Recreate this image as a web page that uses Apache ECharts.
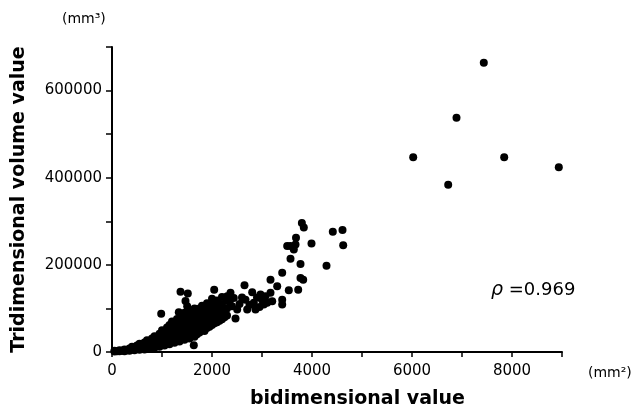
<!DOCTYPE html>
<html>
<head>
<meta charset="utf-8">
<script src="https://cdn.jsdelivr.net/npm/echarts@6/dist/echarts.min.js"></script>
<style>
  html, body { margin: 0; padding: 0; background: #fff; }
  #main { width: 631px; height: 412px; }
</style>
</head>
<body>
<div id="main"></div>
<script>
// bidimensional value (mm2) and tridimensional volume value (mm3)
var bandX = [
  50, 50, 100, 150, 150, 200, 250, 250, 300, 350, 350, 400, 400, 450, 450, 500, 500,
  550, 550, 550, 600, 600, 650, 650, 650, 700, 700, 700, 750, 750, 750,
  800, 800, 800, 850, 850, 850, 850, 900, 900, 900, 950, 950, 950, 950,
  1000, 1000, 1000, 1000, 1050, 1050, 1050, 1050, 1100, 1100, 1100, 1100,
  1150, 1150, 1150, 1150, 1150, 1200, 1200, 1200, 1200, 1200,
  1250, 1250, 1250, 1250, 1250, 1300, 1300, 1300, 1300, 1300,
  1350, 1350, 1350, 1350, 1350, 1400, 1400, 1400, 1400, 1400,
  1450, 1450, 1450, 1450, 1450, 1450, 1500, 1500, 1500, 1500, 1500,
  1550, 1550, 1550, 1550, 1550, 1550, 1600, 1600, 1600, 1600, 1600,
  1650, 1650, 1650, 1650, 1650, 1650, 1700, 1700, 1700, 1700, 1700,
  1750, 1750, 1750, 1750, 1750, 1800, 1800, 1800, 1800, 1800,
  1850, 1850, 1850, 1850, 1850, 1900, 1900, 1900, 1900, 1900,
  1950, 1950, 1950, 1950, 2000, 2000, 2000, 2000, 2000,
  2050, 2050, 2050, 2050, 2100, 2100, 2100, 2100, 2150, 2150, 2150,
  2200, 2200, 2200, 2200, 2250, 2250, 2300, 2300, 2300
];
var bandY = [
  1000, 3000, 2000, 1500, 4000, 3000, 2000, 6000, 4000, 3000, 8000, 6000, 12000, 4000, 9000, 7000, 15000,
  5000, 11000, 19000, 8000, 16000, 6000, 13000, 22000, 10000, 19000, 27000, 8000, 15000, 24000,
  12000, 21000, 31000, 10000, 18000, 27000, 36000, 14000, 24000, 33000, 12000, 20000, 30000, 42000,
  17000, 27000, 38000, 50000, 15000, 24000, 34000, 45000, 20000, 31000, 42000, 56000,
  18000, 28000, 39000, 52000, 62000, 23000, 35000, 47000, 60000, 70000,
  21000, 32000, 44000, 56000, 66000, 26000, 38000, 51000, 63000, 76000,
  24000, 36000, 48000, 60000, 72000, 30000, 42000, 55000, 68000, 82000,
  28000, 40000, 52000, 65000, 78000, 90000, 33000, 46000, 59000, 72000, 86000,
  31000, 44000, 56000, 69000, 82000, 94000, 37000, 50000, 63000, 77000, 90000,
  35000, 48000, 61000, 74000, 88000, 100000, 41000, 54000, 67000, 81000, 95000,
  45000, 58000, 72000, 86000, 100000, 50000, 63000, 77000, 91000, 106000,
  48000, 60000, 74000, 88000, 102000, 55000, 68000, 82000, 96000, 112000,
  58000, 72000, 86000, 100000, 62000, 76000, 92000, 108000, 122000,
  66000, 80000, 96000, 114000, 68000, 84000, 100000, 118000, 72000, 88000, 106000,
  75000, 92000, 110000, 126000, 80000, 96000, 84000, 100000, 118000
];
var scatterX = [
  984, 1336, 1370, 1470, 1504, 1516, 1636, 2044, 2304, 2370, 2436,
  2350, 2400, 2470, 2504, 2550, 2600, 2650, 2670, 2704, 2750, 2804, 2836, 2870, 2900,
  2950, 2970, 3000, 3036, 3070, 3104, 3170, 3170, 3204, 3304, 3404, 3404, 3404,
  3536, 3570, 3724, 3770, 3824, 3770, 4290, 3504, 3570, 3636, 3670, 3680, 3990,
  3797, 3836, 4416, 4610, 4624
];
var scatterY = [
  88000, 91000, 138000, 117000, 105000, 134000, 15600, 143000, 128000, 136000, 124000,
  115000, 105000, 77000, 97500, 110000, 125000, 153000, 120000, 97500, 108000, 137000, 113000, 97500, 125000,
  103000, 132000, 120000, 109000, 128000, 113000, 136000, 166000, 116500, 151000, 120000, 109000, 182000,
  142000, 214000, 143000, 170000, 166000, 202000, 198000, 243000, 243000, 235000, 247000, 262000, 249000,
  296000, 286000, 276000, 280000, 245000
];
var outlierX = [6024, 6724, 6890, 7436, 7844, 8936];
var outlierY = [447000, 384000, 537500, 663700, 447000, 424000];

var xTicks = [0, 2000, 4000, 6000, 8000];
var yTicks = [0, 200000, 400000, 600000];

function zip(xs, ys) {
  var res = [];
  for (var i = 0; i < xs.length; i++) {
    res.push([xs[i], ys[i]]);
  }
  return res;
}

var points = zip(bandX, bandY).concat(zip(scatterX, scatterY), zip(outlierX, outlierY));

var font = 'DejaVu Sans';
var myChart = echarts.init(document.getElementById('main'));
var option = {
  animation: false,
  backgroundColor: '#fff',
  grid: { left: 112, right: 69, top: 47, bottom: 60 },
  xAxis: {
    type: 'value', min: 0, max: 9000, interval: 1000,
    splitLine: { show: false },
    axisLine: { lineStyle: { color: '#000', width: 2 } },
    axisTick: { length: 5, lineStyle: { color: '#000', width: 1.5 } },
    axisLabel: {
      margin: 12, color: '#000', fontFamily: font, fontSize: 15,
      formatter: function (v) { return xTicks.indexOf(v) >= 0 ? String(v) : ''; }
    }
  },
  yAxis: {
    type: 'value', min: 0, max: 700000, interval: 100000,
    splitLine: { show: false },
    axisLine: { lineStyle: { color: '#000', width: 2 } },
    axisTick: { length: 6, lineStyle: { color: '#000', width: 1.5 } },
    axisLabel: {
      margin: 10, color: '#000', fontFamily: font, fontSize: 15,
      formatter: function (v) { return yTicks.indexOf(v) >= 0 ? String(v) : ''; }
    },
    name: 'Tridimensional volume value',
    nameLocation: 'middle', nameRotate: 90, nameGap: 83,
    nameTextStyle: { color: '#000', fontFamily: font, fontWeight: 'bold', fontSize: 19 }
  },
  graphic: [
    { type: 'text', left: 62, top: 12, style: { text: '(mm³)', fill: '#000', font: '14px "DejaVu Sans"' } },
    { type: 'text', left: 588, top: 366, style: { text: '(mm²)', fill: '#000', font: '14px "DejaVu Sans"' } },
    { type: 'text', left: 250, top: 390, style: { text: 'bidimensional value', fill: '#000', font: 'bold 19px "DejaVu Sans"' } },
    {
      type: 'text', left: 491, top: 281,
      style: {
        text: '{i|ρ} =0.969', fill: '#000', font: '18px "DejaVu Sans"',
        rich: { i: { fontStyle: 'italic', fontFamily: font, fontSize: 19, fill: '#000' } }
      }
    }
  ],
  series: [{
    type: 'scatter',
    symbol: 'circle',
    symbolSize: 8,
    itemStyle: { color: '#000', opacity: 1 },
    data: points
  }]
};
myChart.setOption(option);
</script>
</body>
</html>
